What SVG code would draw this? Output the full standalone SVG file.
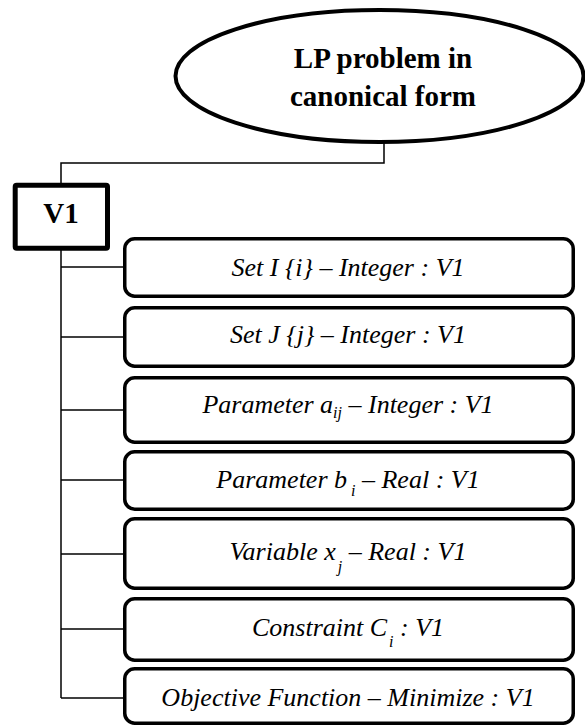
<svg xmlns="http://www.w3.org/2000/svg" width="585" height="728" viewBox="0 0 585 728">
  <style>
    .conn { fill: none; stroke: #000; stroke-width: 1.5; }
    .item rect { fill: #fff; stroke: #000; stroke-width: 3.5; }
    .item text { font-family: 'Liberation Serif', 'Times New Roman', Times, 'Nimbus Roman', 'DejaVu Serif', serif; font-style: italic; font-size: 26px; fill: #000; text-anchor: middle; }
    .sub { font-size: 16px; }
    .bold { font-family: 'Liberation Serif', 'Times New Roman', Times, 'Nimbus Roman', 'DejaVu Serif', serif; font-weight: bold; font-size: 29px; fill: #000; text-anchor: middle; }
  </style>
  <rect width="585" height="728" fill="#fff"/>
  <g id="connectors">
    <polyline class="conn" points="384,142 384,163 61,163 61,185"/>
    <line class="conn" x1="61" y1="250" x2="61" y2="698"/>
    <line class="conn" x1="61" y1="267" x2="125" y2="267"/>
    <line class="conn" x1="61" y1="337" x2="125" y2="337"/>
    <line class="conn" x1="61" y1="410" x2="125" y2="410"/>
    <line class="conn" x1="61" y1="480" x2="125" y2="480"/>
    <line class="conn" x1="61" y1="554" x2="125" y2="554"/>
    <line class="conn" x1="61" y1="629" x2="125" y2="629"/>
    <line class="conn" x1="61" y1="698" x2="125" y2="698"/>
  </g>
  <g id="root">
    <ellipse cx="379.5" cy="76" rx="204" ry="66" fill="#fff" stroke="#000" stroke-width="4"/>
    <text class="bold" x="383" y="68">LP problem in</text>
    <text class="bold" x="383" y="106">canonical form</text>
  </g>
  <g id="v1">
    <rect x="15.2" y="185.2" width="92.3" height="63" rx="1.5" fill="#fff" stroke="#000" stroke-width="5"/>
    <text class="bold" x="61" y="223">V1</text>
  </g>
  <g id="setI" class="item">
    <rect x="124.75" y="238.75" width="448.5" height="57.5" rx="10"/>
    <text x="348" y="276">Set I {i} – Integer : V1</text>
  </g>
  <g id="setJ" class="item">
    <rect x="124.75" y="307.75" width="448.5" height="58.5" rx="10"/>
    <text x="348" y="343">Set J {j} – Integer : V1</text>
  </g>
  <g id="paramA" class="item">
    <rect x="124.75" y="377.75" width="448.5" height="64.5" rx="10"/>
    <text x="348" y="413">Parameter a<tspan class="sub" dy="5">ij</tspan><tspan dy="-5"> – Integer : V1</tspan></text>
  </g>
  <g id="paramB" class="item">
    <rect x="124.75" y="451.75" width="448.5" height="57.5" rx="10"/>
    <text x="348" y="488">Parameter b<tspan class="sub" dx="4" dy="8">i</tspan><tspan dy="-8"> – Real : V1</tspan></text>
  </g>
  <g id="varX" class="item">
    <rect x="124.75" y="518.75" width="448.5" height="69.5" rx="10"/>
    <text x="348" y="560">Variable x<tspan class="sub" dx="2" dy="12">j</tspan><tspan dy="-12"> – Real : V1</tspan></text>
  </g>
  <g id="constraint" class="item">
    <rect x="124.75" y="598.75" width="448.5" height="61.5" rx="10"/>
    <text x="348" y="636">Constraint C<tspan class="sub" dx="2" dy="11">i</tspan><tspan dy="-11"> : V1</tspan></text>
  </g>
  <g id="objective" class="item">
    <rect x="124.75" y="668.75" width="448.5" height="54.5" rx="10"/>
    <text x="348" y="706">Objective Function – Minimize : V1</text>
  </g>
</svg>
